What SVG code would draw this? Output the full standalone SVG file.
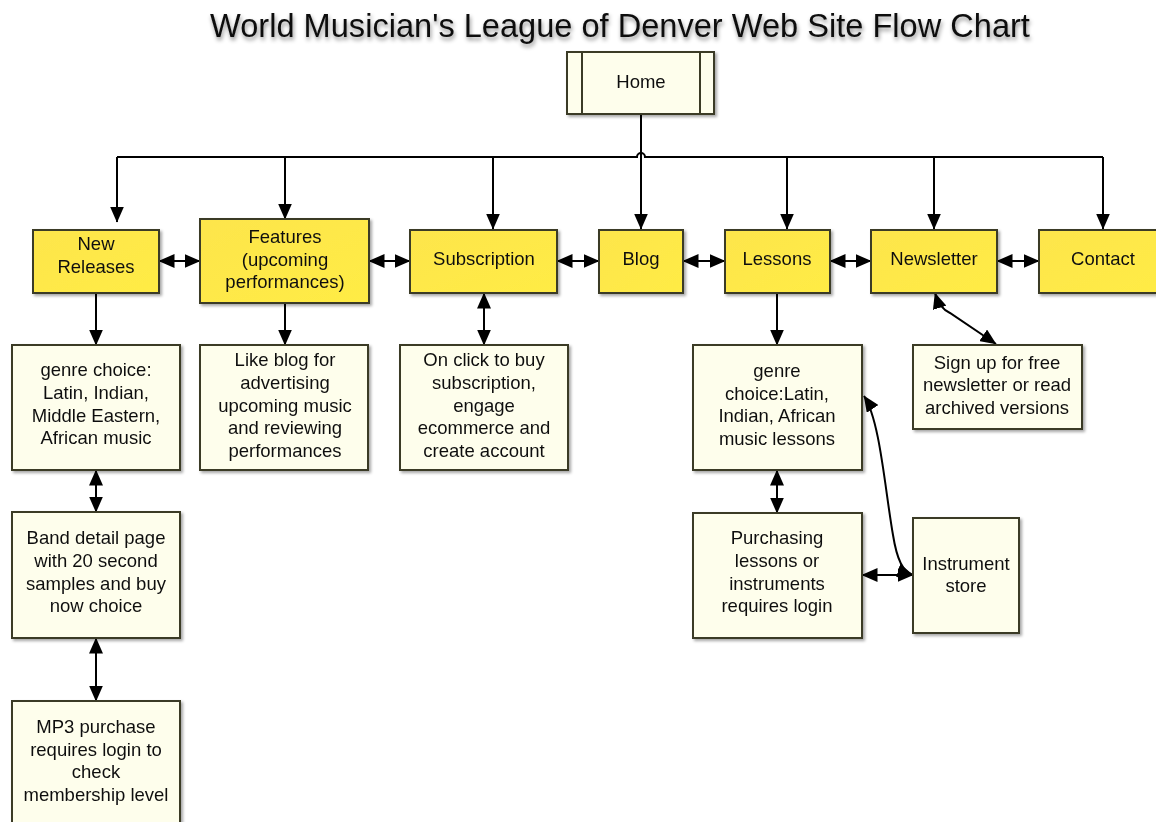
<svg xmlns="http://www.w3.org/2000/svg" width="1156" height="822" viewBox="0 0 1156 822">
<style>
.y{fill:url(#gy);stroke:#3b3a26;stroke-width:2}
.l{fill:#fefeec;stroke:#3b3a26;stroke-width:2}
.t{font-family:"Liberation Sans",Arial,sans-serif;font-size:18.5px;fill:#111;text-anchor:middle}
.c{fill:none;stroke:#000;stroke-width:2}
.one{marker-end:url(#ah)}
.two{marker-start:url(#ah);marker-end:url(#ah)}
</style>
<defs>
<linearGradient id="gy" x1="0" y1="0" x2="1" y2="1">
<stop offset="0" stop-color="#fde54c"/>
<stop offset="1" stop-color="#ffec44"/>
</linearGradient>
<filter id="sh" x="-10%" y="-10%" width="130%" height="130%">
<feDropShadow dx="2" dy="2" stdDeviation="1.8" flood-color="#000" flood-opacity="0.35"/>
</filter>
<filter id="ts" x="-5%" y="-30%" width="110%" height="180%">
<feDropShadow dx="1" dy="3" stdDeviation="2" flood-color="#000" flood-opacity="0.45"/>
</filter>
<marker id="ah" viewBox="0 0 16 14" refX="15.5" refY="7" markerWidth="16" markerHeight="14" markerUnits="userSpaceOnUse" orient="auto-start-reverse">
<path d="M0,0 L16,7 L0,14 z" fill="#000"/>
</marker>
</defs>
<rect width="1156" height="822" fill="#fff"/>
<text x="620" y="37" font-family="'Liberation Sans',Arial,sans-serif" font-size="32.6" text-anchor="middle" fill="#111" filter="url(#ts)">World Musician's League of Denver Web Site Flow Chart</text>

<g id="connectors">
<path class="c" d="M641,115 V157"/>
<path class="c" d="M117,157 H637 A4,4 0 0 1 645,157 H1103"/>
<path class="c one" d="M117,157 V222"/>
<path class="c one" d="M285,157 V219"/>
<path class="c one" d="M493,157 V229"/>
<path class="c one" d="M641,157 V229"/>
<path class="c one" d="M787,157 V229"/>
<path class="c one" d="M934,157 V229"/>
<path class="c one" d="M1103,157 V229"/>
<path class="c two" d="M159,261 H200"/>
<path class="c two" d="M369,261 H410"/>
<path class="c two" d="M557,261 H599"/>
<path class="c two" d="M683,261 H725"/>
<path class="c two" d="M830,261 H871"/>
<path class="c two" d="M997,261 H1039"/>
<path class="c one" d="M96,293 V345"/>
<path class="c one" d="M285,303 V345"/>
<path class="c two" d="M484,293 V345"/>
<path class="c one" d="M777,293 V345"/>
<path class="c two" d="M935,293 Q940,309 950,313 L996,344"/>
<path class="c two" d="M96,470 V512"/>
<path class="c two" d="M96,638 V701"/>
<path class="c two" d="M777,470 V513"/>
<path class="c two" d="M862,575 H913"/>
<path class="c two" d="M864,396 C880,420 885,490 893,535 C897,560 903,572 913,575"/>
</g>

<g id="home" filter="url(#sh)">
<rect class="l" x="567" y="52" width="147" height="62"/>
<path d="M582,52 V114 M700,52 V114" stroke="#3b3a26" stroke-width="2"/>
<text class="t" x="641" y="88">Home</text>
</g>

<g id="new-releases" filter="url(#sh)">
<rect class="y" x="33" y="230" width="126" height="63"/>
<text class="t" x="96" y="250">New</text>
<text class="t" x="96" y="273">Releases</text>
</g>
<g id="features" filter="url(#sh)">
<rect class="y" x="200" y="219" width="169" height="84"/>
<text class="t" x="285" y="243">Features</text>
<text class="t" x="285" y="266">(upcoming</text>
<text class="t" x="285" y="288">performances)</text>
</g>
<g id="subscription" filter="url(#sh)">
<rect class="y" x="410" y="230" width="147" height="63"/>
<text class="t" x="484" y="265">Subscription</text>
</g>
<g id="blog" filter="url(#sh)">
<rect class="y" x="599" y="230" width="84" height="63"/>
<text class="t" x="641" y="265">Blog</text>
</g>
<g id="lessons" filter="url(#sh)">
<rect class="y" x="725" y="230" width="105" height="63"/>
<text class="t" x="777" y="265">Lessons</text>
</g>
<g id="newsletter" filter="url(#sh)">
<rect class="y" x="871" y="230" width="126" height="63"/>
<text class="t" x="934" y="265">Newsletter</text>
</g>
<g id="contact" filter="url(#sh)">
<rect class="y" x="1039" y="230" width="128" height="63"/>
<text class="t" x="1103" y="265">Contact</text>
</g>

<g id="genre-choice" filter="url(#sh)">
<rect class="l" x="12" y="345" width="168" height="125"/>
<text class="t" x="96" y="376">genre choice:</text>
<text class="t" x="96" y="399">Latin, Indian,</text>
<text class="t" x="96" y="422">Middle Eastern,</text>
<text class="t" x="96" y="444">African music</text>
</g>
<g id="like-blog" filter="url(#sh)">
<rect class="l" x="200" y="345" width="168" height="125"/>
<text class="t" x="285" y="366">Like blog for</text>
<text class="t" x="285" y="389">advertising</text>
<text class="t" x="285" y="412">upcoming music</text>
<text class="t" x="285" y="434">and reviewing</text>
<text class="t" x="285" y="457">performances</text>
</g>
<g id="on-click" filter="url(#sh)">
<rect class="l" x="400" y="345" width="168" height="125"/>
<text class="t" x="484" y="366">On click to buy</text>
<text class="t" x="484" y="389">subscription,</text>
<text class="t" x="484" y="412">engage</text>
<text class="t" x="484" y="434">ecommerce and</text>
<text class="t" x="484" y="457">create account</text>
</g>
<g id="genre-lessons" filter="url(#sh)">
<rect class="l" x="693" y="345" width="169" height="125"/>
<text class="t" x="777" y="377">genre</text>
<text class="t" x="777" y="400">choice:Latin,</text>
<text class="t" x="777" y="422">Indian, African</text>
<text class="t" x="777" y="445">music lessons</text>
</g>
<g id="sign-up" filter="url(#sh)">
<rect class="l" x="913" y="345" width="169" height="84"/>
<text class="t" x="997" y="369">Sign up for free</text>
<text class="t" x="997" y="391">newsletter or read</text>
<text class="t" x="997" y="414">archived versions</text>
</g>
<g id="band-detail" filter="url(#sh)">
<rect class="l" x="12" y="512" width="168" height="126"/>
<text class="t" x="96" y="544">Band detail page</text>
<text class="t" x="96" y="567">with 20 second</text>
<text class="t" x="96" y="590">samples and buy</text>
<text class="t" x="96" y="612">now choice</text>
</g>
<g id="purchasing" filter="url(#sh)">
<rect class="l" x="693" y="513" width="169" height="125"/>
<text class="t" x="777" y="544">Purchasing</text>
<text class="t" x="777" y="567">lessons or</text>
<text class="t" x="777" y="590">instruments</text>
<text class="t" x="777" y="612">requires login</text>
</g>
<g id="instrument-store" filter="url(#sh)">
<rect class="l" x="913" y="518" width="106" height="115"/>
<text class="t" x="966" y="570">Instrument</text>
<text class="t" x="966" y="592">store</text>
</g>
<g id="mp3" filter="url(#sh)">
<rect class="l" x="12" y="701" width="168" height="130"/>
<text class="t" x="96" y="733">MP3 purchase</text>
<text class="t" x="96" y="756">requires login to</text>
<text class="t" x="96" y="778">check</text>
<text class="t" x="96" y="801">membership level</text>
</g>
</svg>
